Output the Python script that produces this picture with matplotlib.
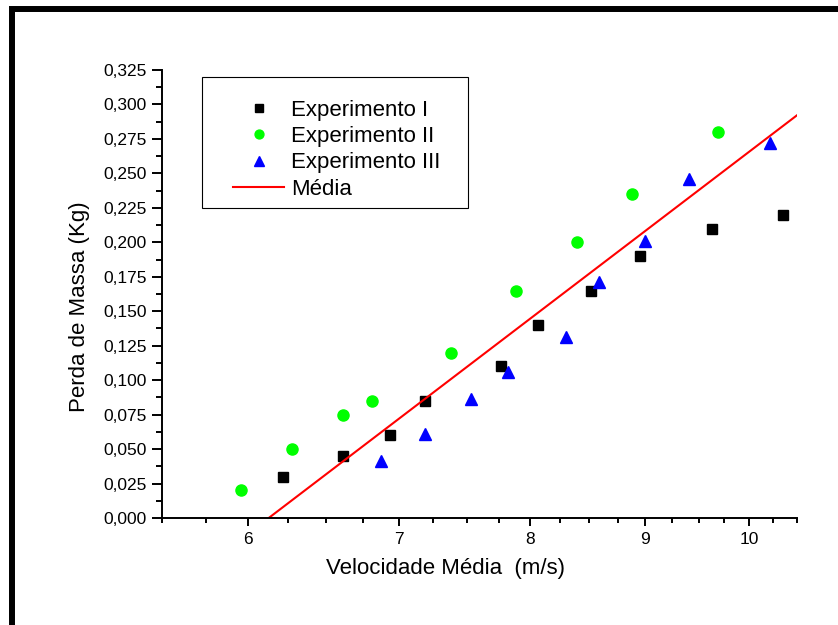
import matplotlib
matplotlib.use("Agg")
import matplotlib.pyplot as plt
import numpy as np
from matplotlib.patches import Rectangle
from matplotlib.ticker import FixedLocator, FuncFormatter, NullFormatter

plt.rcParams['font.family'] = ['Liberation Sans', 'DejaVu Sans']

# dados
exp1_v = [6.22, 6.61, 6.94, 7.19, 7.77, 8.07, 8.51, 8.95, 9.63, 10.35]
exp1_m = [0.030, 0.045, 0.060, 0.085, 0.110, 0.140, 0.165, 0.190, 0.210, 0.220]

exp2_v = [5.96, 6.28, 6.61, 6.81, 7.38, 7.89, 8.39, 8.88, 9.69]
exp2_m = [0.020, 0.050, 0.075, 0.085, 0.120, 0.165, 0.200, 0.235, 0.280]

exp3_v = [6.87, 7.19, 7.53, 7.82, 8.30, 8.58, 9.00, 9.41, 10.22]
exp3_m = [0.041, 0.061, 0.086, 0.106, 0.131, 0.171, 0.201, 0.246, 0.272]

media_v = [6.13, 10.5]
media_m = [0.0, 0.292]

x_ticks = [6, 7, 8, 9, 10]

fig = plt.figure(figsize=(8.38, 6.25), dpi=100)
ax = fig.add_axes([162.3/838, 1-518/625, 634.4/838, 448/625])

ax.plot(exp1_v, exp1_m, 's', color='black', ms=7.2, mec='black', label='Experimento I')
ax.plot(exp2_v, exp2_m, 'o', color='#00ff00', ms=8, mec='#00ff00', label='Experimento II')
ax.plot(exp3_v, exp3_m, '^', color='#0000ff', ms=9, mec='#0000ff', label='Experimento III')
ax.plot(media_v, media_m, '-', color='#ff0000', lw=1.5, label='Média')

ax.set_xscale('log')
ax.set_xlim(5.5, 10.5)
ax.set_ylim(0, 0.325)

ax.xaxis.set_major_locator(FixedLocator(x_ticks))
ax.xaxis.set_major_formatter(FuncFormatter(lambda v, p: f"{v:.0f}"))
ax.xaxis.set_minor_locator(FixedLocator([v for v in np.arange(5.5, 10.51, 0.25) if v not in x_ticks]))
ax.xaxis.set_minor_formatter(NullFormatter())

ax.yaxis.set_major_locator(FixedLocator(np.arange(0, 0.3251, 0.025)))
ax.yaxis.set_minor_locator(FixedLocator(np.arange(0.0125, 0.325, 0.025)))
ax.yaxis.set_major_formatter(FuncFormatter(lambda v, p: f"{v:.3f}".replace('.', ',')))

for s in ['top', 'right']:
    ax.spines[s].set_visible(False)
for s in ['left', 'bottom']:
    ax.spines[s].set_linewidth(1.4)

ax.tick_params(axis='y', which='major', length=7.2, width=1.4, labelsize=12.5, pad=4)
ax.tick_params(axis='y', which='minor', length=4, width=1.4)
ax.tick_params(axis='x', which='major', length=5.8, width=1.4, labelsize=12.5, pad=4)
ax.tick_params(axis='x', which='minor', length=3.3, width=1.4)

ax.set_xlabel('Velocidade Média  (m/s)', fontsize=16, va='center')
ax.xaxis.set_label_coords(0.447, -0.112)
ax.set_ylabel('Perda de Massa (Kg)', fontsize=16, va='center')
ax.yaxis.set_label_coords(-0.131, 0.471)

# legenda sem moldura, caixa desenhada a parte
leg = ax.legend(loc='upper left', bbox_to_anchor=(0.1114, 0.934), borderaxespad=0,
                fontsize=16, frameon=False, borderpad=0, markerscale=0.8,
                labelspacing=0.243, handlelength=2.3, handletextpad=0.3)
ax.add_patch(Rectangle((0.0626, 0.692), 0.4193, 0.2924, transform=ax.transAxes,
                       fill=False, lw=0.8, ec='black', zorder=5))

# moldura preta
fig.patches.append(Rectangle((12/838, -0.2), 2, 1-9/625+0.2, transform=fig.transFigure,
                             fill=False, lw=4.3, ec='black'))

fig.savefig('out.png', dpi=100)
